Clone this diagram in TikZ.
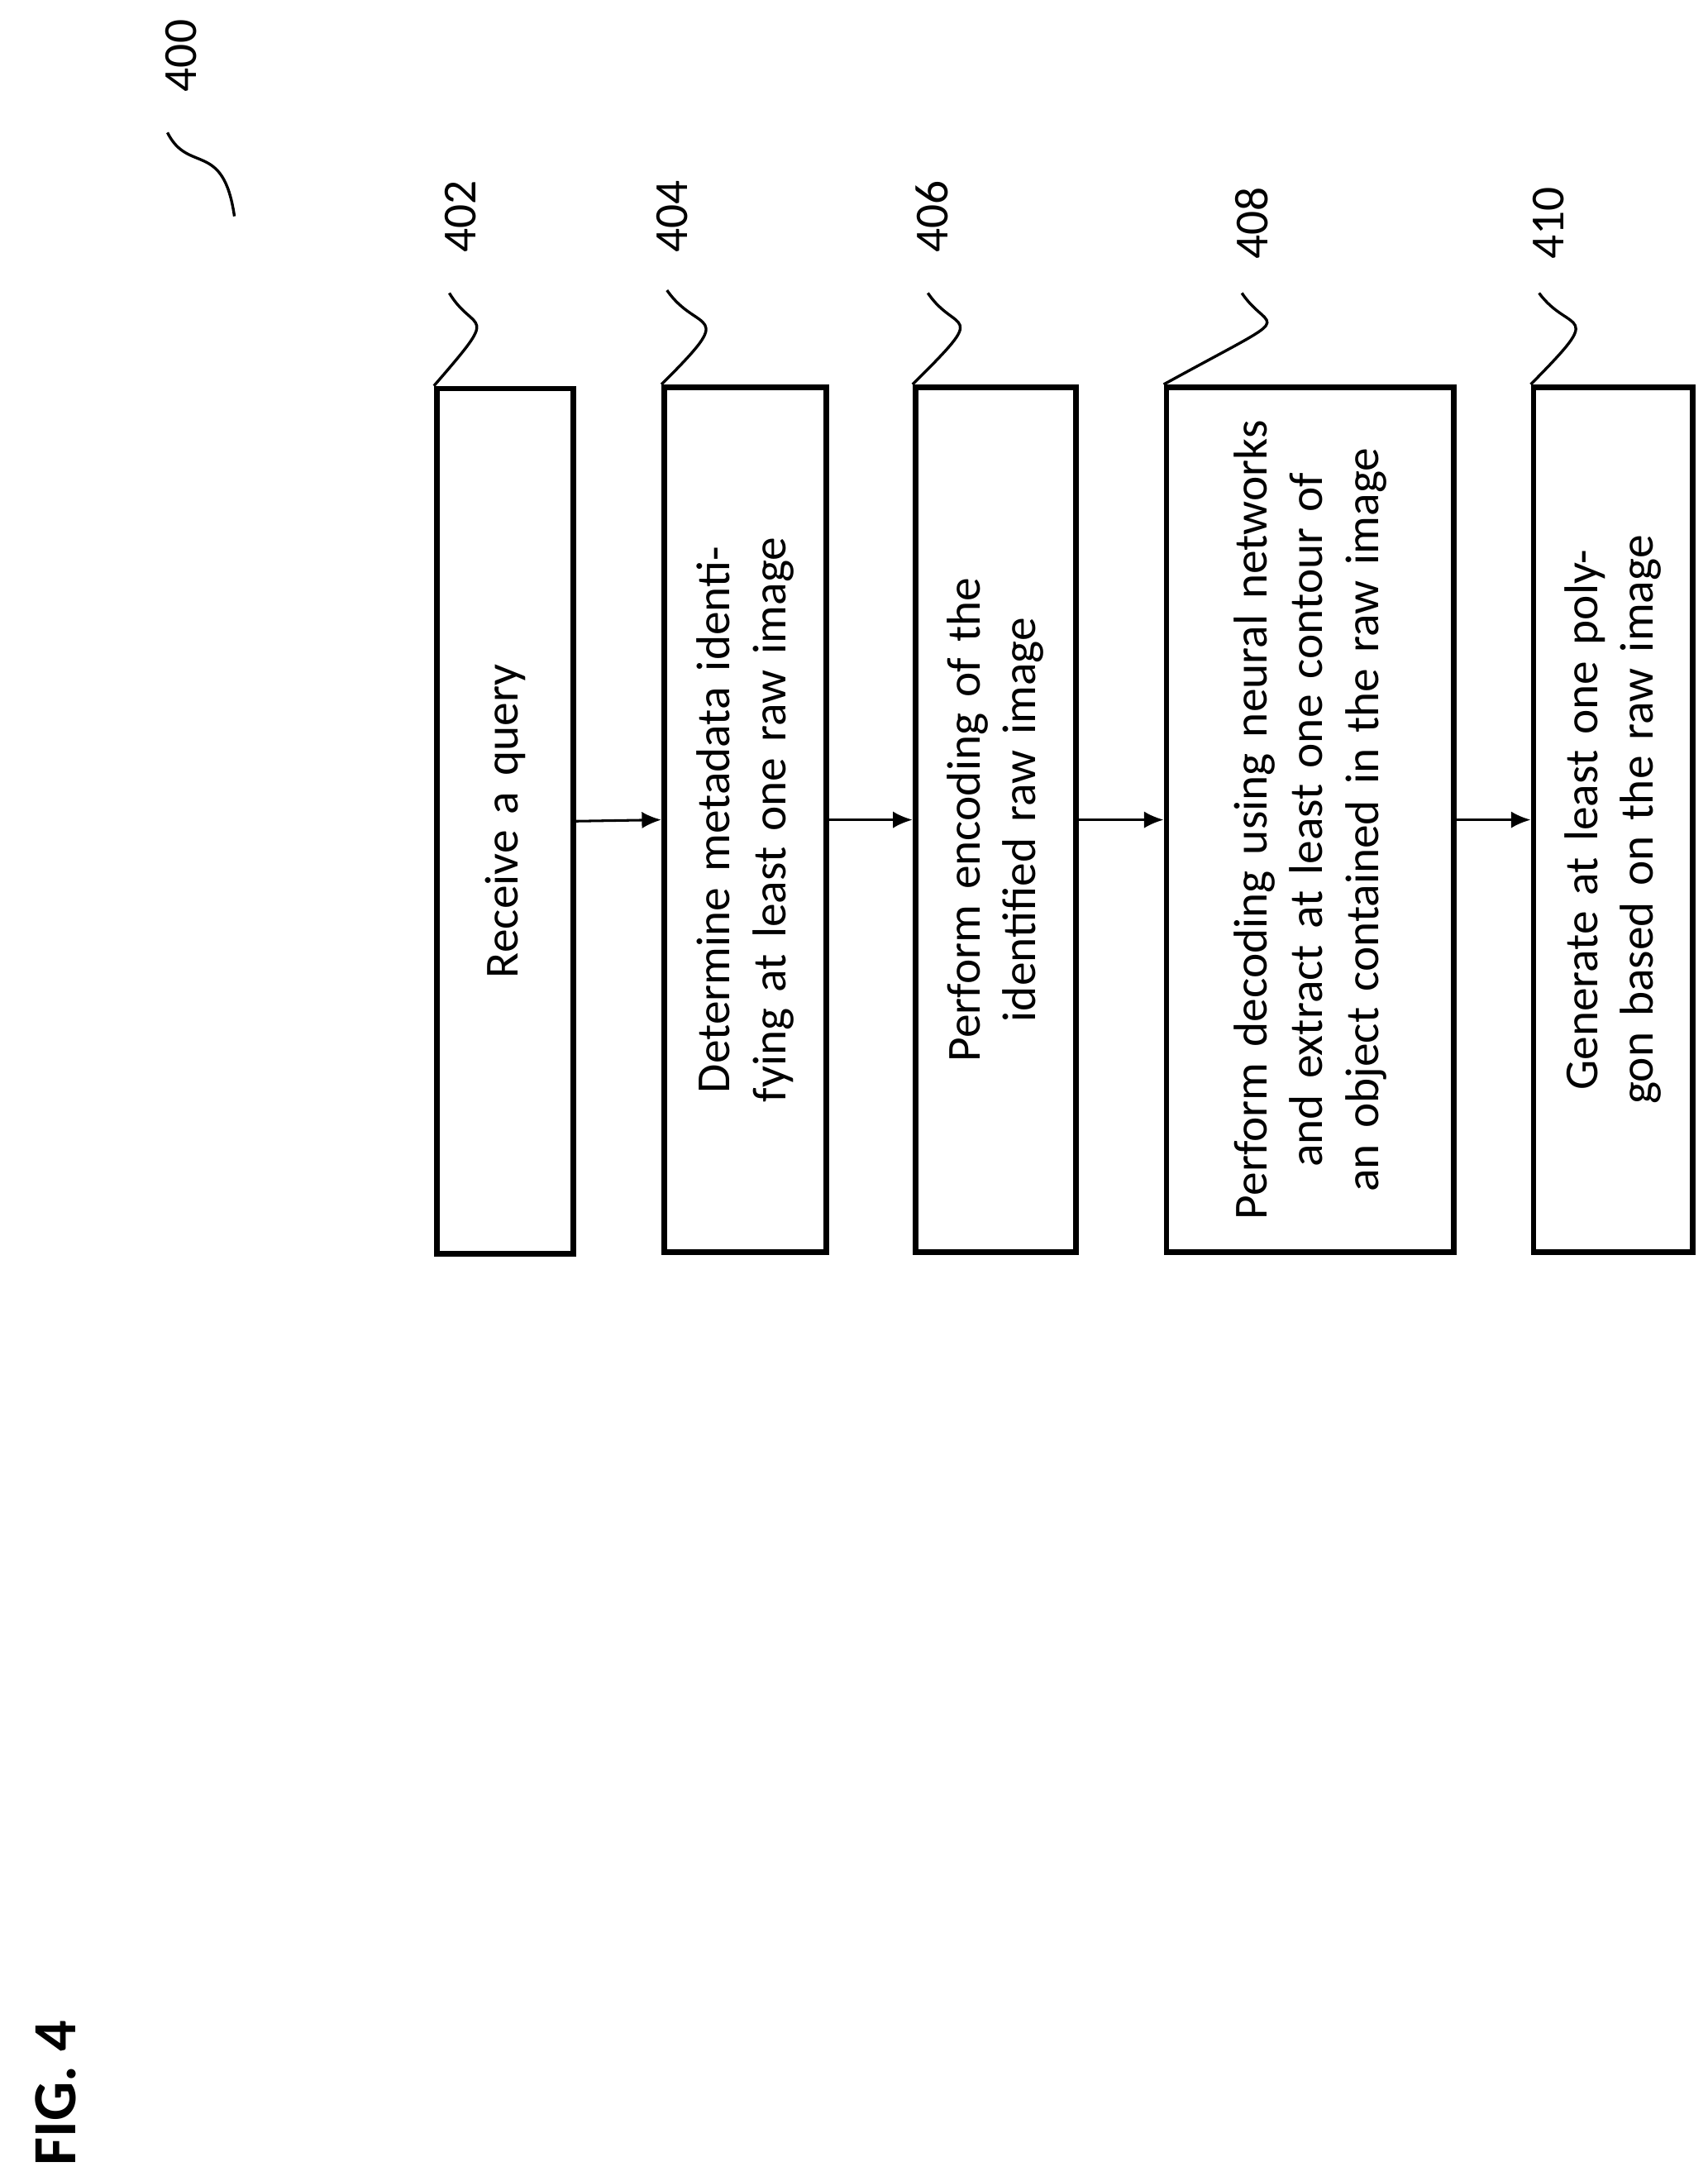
\documentclass[tikz,border=0pt]{standalone}
\usepackage{fontspec}
\setmainfont{Carlito}
\usetikzlibrary{arrows.meta}
\tikzset{
  stepbox/.style={draw, line width=2pt, rotate=90, align=center, inner sep=0pt,
    font=\fontsize{17}{20}\selectfont, minimum width=310pt},
  reflabel/.style={rotate=90, font=\fontsize{17}{20}\selectfont},
  squig/.style={line width=1pt},
  flow/.style={-{Latex[length=7pt,width=6pt]}, line width=0.9pt}
}
\begin{document}
\begin{tikzpicture}[x=0.5pt,y=-0.5pt]
\useasboundingbox (0,0) rectangle (1224,1563);
% process boxes
\node[stepbox, minimum height=49pt, text width=290pt] (s402) at (362,588.5) {Receive a query};
\node[stepbox, minimum height=58pt, text width=290pt] (s404) at (534,587.5) {Determine metadata identifying at least one raw image};
\node[stepbox, minimum height=57.5pt, text width=290pt] (s406) at (713.5,587.5) {Perform encoding of the identified raw image};
\node[stepbox, minimum height=103pt, text width=290pt] (s408) at (939,587.5) {Perform decoding using neural networks and extract at least one contour of an object contained in the raw image};
\node[stepbox, minimum height=57pt, text width=290pt] (s410) at (1156,587.5) {Generate at least one polygon based on the raw image};
% arrows
\draw[flow] (s402.south) -- (s404.north);
\draw[flow] (s404.south) -- (s406.north);
\draw[flow] (s406.south) -- (s408.north);
\draw[flow] (s408.south) -- (s410.north);
% reference numerals
\node[reflabel] (n400) at (130,40) {400};
\node[reflabel] (n402) at (330,155) {402};
\node[reflabel] (n404) at (482,155) {404};
\node[reflabel] (n406) at (668,155) {406};
\node[reflabel] (n408) at (897,160) {408};
\node[reflabel] (n410) at (1110,160) {410};
\draw[squig] (120,95) .. controls (135,125) and (160,100) .. (168,155);
\draw[squig] (322,210) .. controls (340,240) and (360,220) .. (s402.north east);
\draw[squig] (478,208) .. controls (500,240) and (530,220) .. (s404.north east);
\draw[squig] (665,210) .. controls (685,240) and (710,220) .. (s406.north east);
\draw[squig] (890,210) .. controls (910,240) and (935,220) .. (s408.north east);
\draw[squig] (1103,210) .. controls (1125,240) and (1152,220) .. (s410.north east);
% figure title
\node[rotate=90, font=\fontsize{22}{24}\selectfont\bfseries] (fig) at (40,1500) {FIG. 4};
\end{tikzpicture}
\end{document}
